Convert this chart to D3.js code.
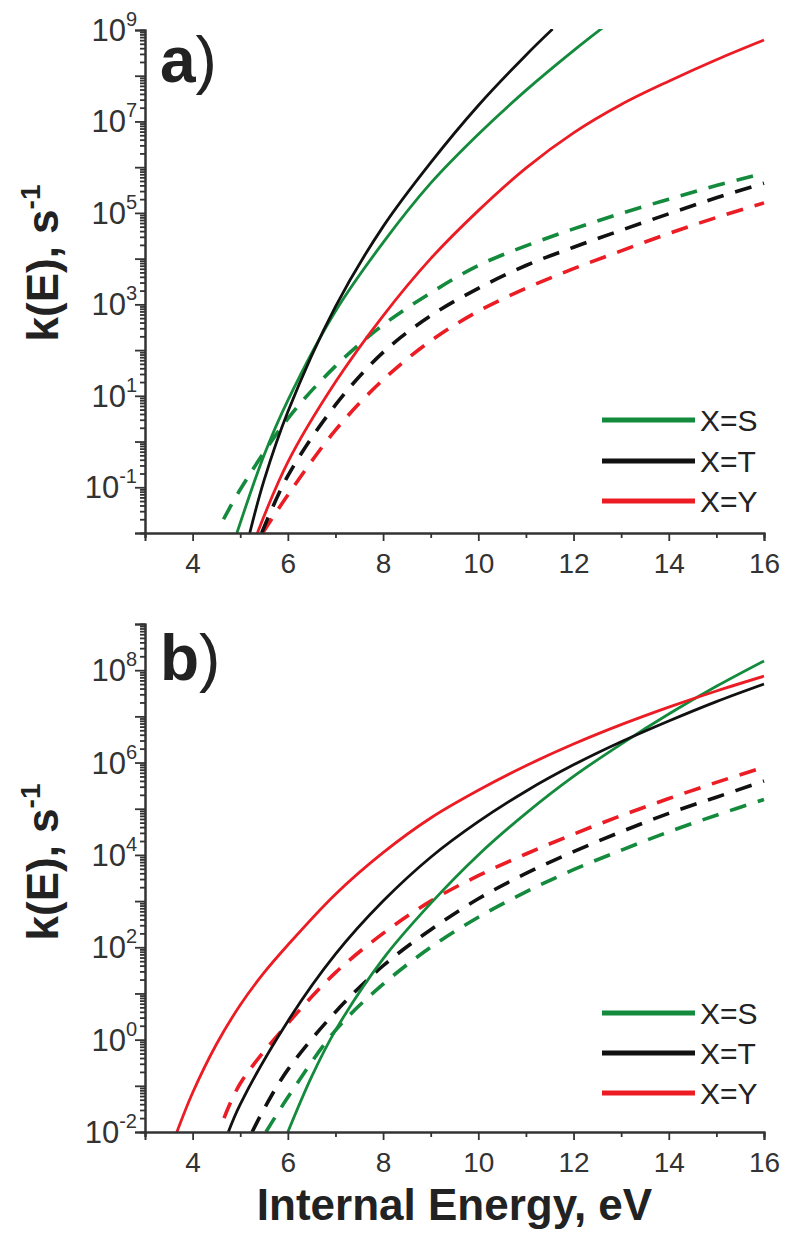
<!DOCTYPE html>
<html>
<head>
<meta charset="utf-8">
<script src="https://cdn.jsdelivr.net/npm/d3@7"></script>
<style>
  body { margin: 0; background: #fff; }
  svg { display: block; font-family: "Liberation Sans", Arial, sans-serif; }
</style>
</head>
<body>
<div id="chart"><svg width="787" height="1234"></svg></div>
<script>
// energies (eV) and log10 k(E)
// panel a
const aS_E = [4.93, 5.5, 6, 7, 8, 9, 10, 11, 12, 12.65]
const aS_logK = [-2, -0.3, 0.9, 2.85, 4.35, 5.65, 6.72, 7.68, 8.55, 9.08]
const aT_E = [5.2, 5.5, 6, 7, 8, 9, 10, 11, 11.56]
const aT_logK = [-2, -0.85, 0.65, 2.95, 4.7, 6.1, 7.35, 8.45, 9.02]
const aY_E = [5.36, 6, 7, 8, 9, 10, 11, 12, 13, 14, 15, 16]
const aY_logK = [-2, -0.45, 1.3, 2.75, 4.0, 5.05, 5.98, 6.75, 7.37, 7.88, 8.35, 8.78]
const aSd_E = [4.65, 5, 6, 7, 8, 9, 10, 11, 12, 13, 14, 15, 16]
const aSd_logK = [-1.7, -1.05, 0.5, 1.65, 2.55, 3.25, 3.85, 4.28, 4.65, 4.99, 5.3, 5.6, 5.87]
const aTd_E = [5.45, 6, 7, 8, 9, 10, 11, 12, 13, 14, 15, 16]
const aTd_logK = [-2, -0.75, 0.8, 1.95, 2.75, 3.35, 3.85, 4.25, 4.62, 4.98, 5.33, 5.65]
const aYd_E = [5.47, 6, 7, 8, 9, 10, 11, 12, 13, 14, 15, 16]
const aYd_logK = [-2, -1.17, 0.25, 1.35, 2.2, 2.85, 3.35, 3.78, 4.17, 4.55, 4.9, 5.22]

// panel b
const bS_E = [6.0, 6.5, 7, 8, 9, 10, 11, 12, 13, 14, 15, 16]
const bS_logK = [-2, -0.8, 0.2, 1.75, 2.95, 4.0, 4.9, 5.7, 6.4, 7.05, 7.65, 8.2]
const bT_E = [4.75, 5, 6, 7, 8, 9, 10, 11, 12, 13, 14, 15, 16]
const bT_logK = [-2, -1.4, 0.4, 1.85, 3.0, 3.95, 4.72, 5.38, 5.95, 6.45, 6.9, 7.32, 7.7]
const bY_E = [3.67, 4, 4.5, 5, 5.5, 6, 7, 8, 9, 10, 11, 12, 13, 14, 15, 16]
const bY_logK = [-2, -1.15, -0.1, 0.75, 1.45, 2.05, 3.15, 4.05, 4.8, 5.4, 5.93, 6.4, 6.82, 7.2, 7.55, 7.87]
const bSd_E = [5.54, 6, 7, 8, 9, 10, 11, 12, 13, 14, 15, 16]
const bSd_logK = [-2, -1.25, 0.2, 1.2, 2.0, 2.65, 3.2, 3.68, 4.1, 4.5, 4.86, 5.2]
const bTd_E = [5.25, 5.5, 6, 7, 8, 9, 10, 11, 12, 13, 14, 15, 16]
const bTd_logK = [-2, -1.5, -0.65, 0.6, 1.6, 2.38, 3.05, 3.6, 4.07, 4.5, 4.9, 5.25, 5.6]
const bYd_E = [4.66, 5, 6, 7, 8, 9, 10, 11, 12, 13, 14, 15, 16]
const bYd_logK = [-1.7, -0.95, 0.35, 1.45, 2.3, 3.0, 3.55, 4.02, 4.45, 4.85, 5.22, 5.57, 5.9]

const legendLabels = ["X=S", "X=T", "X=Y"]
const xTickLabels = [4, 6, 8, 10, 12, 14, 16]
const aYLabelExps = [9, 7, 5, 3, 1, -1]
const bYLabelExps = [8, 6, 4, 2, 0, -2]

const colors = { S: "#138a3c", T: "#111111", Y: "#ec1c24" }

function draw () {
  const svg = d3.select('#chart svg')
  const left = 145, right = 764

  const xScale = d3.scaleLinear().domain([3, 16]).range([left, right])

  const panels = [
    {
      id: 'a', top: 30, bottom: 533, labelExps: aYLabelExps, letterY: 82, titleY: 263,
      legendY: [420, 461, 501],
      series: [
        { key: 'Y', dash: true, E: aYd_E, k: aYd_logK },
        { key: 'T', dash: true, E: aTd_E, k: aTd_logK },
        { key: 'S', dash: true, E: aSd_E, k: aSd_logK },
        { key: 'Y', dash: false, E: aY_E, k: aY_logK },
        { key: 'S', dash: false, E: aS_E, k: aS_logK },
        { key: 'T', dash: false, E: aT_E, k: aT_logK }
      ]
    },
    {
      id: 'b', top: 624, bottom: 1132, labelExps: bYLabelExps, letterY: 680, titleY: 862,
      legendY: [1013, 1053, 1093],
      series: [
        { key: 'S', dash: true, E: bSd_E, k: bSd_logK },
        { key: 'T', dash: true, E: bTd_E, k: bTd_logK },
        { key: 'Y', dash: true, E: bYd_E, k: bYd_logK },
        { key: 'S', dash: false, E: bS_E, k: bS_logK },
        { key: 'T', dash: false, E: bT_E, k: bT_logK },
        { key: 'Y', dash: false, E: bY_E, k: bY_logK }
      ]
    }
  ]

  panels.forEach(p => {
    const yScale = d3.scaleLog().domain([1e-2, 1e9]).range([p.bottom, p.top])
    const g = svg.append('g')

    g.append('clipPath').attr('id', `clip-${p.id}`)
      .append('rect')
      .attr('x', left).attr('y', p.top - 1)
      .attr('width', right - left + 2).attr('height', p.bottom - p.top + 1)

    // curves
    const line = d3.line()
      .x(d => xScale(d[0]))
      .y(d => yScale(Math.pow(10, d[1])))
      .curve(d3.curveCatmullRom.alpha(0.5))

    g.append('g').attr('clip-path', `url(#clip-${p.id})`)
      .selectAll('path')
      .data(p.series)
      .join('path')
      .attr('d', s => line(s.E.map((e, i) => [e, s.k[i]])))
      .attr('fill', 'none')
      .attr('stroke', s => colors[s.key])
      .attr('stroke-width', s => s.dash ? 3.6 : 2.8)
      .attr('stroke-dasharray', s => s.dash ? '17,12' : null)

    // y axis: majors every decade, minors 2..9
    const majors = d3.range(-2, 10).map(e => Math.pow(10, e))
    const minors = []
    d3.range(-2, 9).forEach(e => { for (let m = 2; m <= 9; m++) minors.push(m * Math.pow(10, e)) })

    const yAxisG = g.append('g')
      .attr('transform', `translate(${left},0)`)
      .call(d3.axisLeft(yScale).tickValues(majors).tickSize(10).tickFormat(''))
    yAxisG.append('g')
      .call(d3.axisLeft(yScale).tickValues(minors).tickSize(5).tickFormat(''))
    yAxisG.selectAll('.domain').attr('stroke', '#333').attr('stroke-width', 2)
    yAxisG.selectAll('.tick line').attr('stroke', '#333').attr('stroke-width', 1.8)

    // y tick labels with superscripts
    const yl = g.append('g').selectAll('text')
      .data(p.labelExps)
      .join('text')
      .attr('x', left - 8)
      .attr('y', e => yScale(Math.pow(10, e)) + 11)
      .attr('text-anchor', 'end')
      .attr('fill', '#333')
      .style('font-size', '31px')
    yl.append('tspan').text('10')
    yl.append('tspan').attr('dy', -15).style('font-size', '20px').text(e => String(e))

    // x axis
    const xAxisG = g.append('g')
      .attr('transform', `translate(0,${p.bottom})`)
      .call(d3.axisBottom(xScale).tickValues(xTickLabels).tickSize(8).tickFormat(d3.format('d')))
    xAxisG.append('g')
      .call(d3.axisBottom(xScale).tickValues([3, 5, 7, 9, 11, 13, 15]).tickSize(5).tickFormat(''))
    xAxisG.selectAll('.domain').attr('stroke', '#333').attr('stroke-width', 2)
    xAxisG.selectAll('.tick line').attr('stroke', '#333').attr('stroke-width', 1.8)
    xAxisG.selectAll('.tick text')
      .attr('y', 20).attr('dy', '0.71em')
      .attr('fill', '#333')
      .style('font-size', '28px').style('font-family', '"Liberation Sans", Arial, sans-serif')

    // legend
    const lg = g.append('g').selectAll('g')
      .data(legendLabels)
      .join('g')
      .attr('transform', (d, i) => `translate(0,${p.legendY[i]})`)
    lg.append('line')
      .attr('x1', 602).attr('x2', 695)
      .attr('stroke', (d, i) => colors[['S', 'T', 'Y'][i]])
      .attr('stroke-width', 5)
    lg.append('text')
      .attr('x', 700).attr('y', 11)
      .attr('fill', '#222')
      .style('font-size', '30px')
      .text(d => d)

    // panel letter
    const letter = g.append('text')
      .attr('x', 160).attr('y', p.letterY)
      .attr('fill', '#222')
      .style('font-size', '64px')
    letter.append('tspan').style('font-weight', 'bold').text(p.id)
    letter.append('tspan').text(')')

    // y title
    const yt = g.append('text')
      .attr('transform', `translate(58,${p.titleY}) rotate(-90)`)
      .attr('text-anchor', 'middle')
      .attr('fill', '#222')
      .style('font-size', '44px').style('font-weight', 'bold')
    yt.append('tspan').text('k(E), s')
    yt.append('tspan').attr('dy', -18).style('font-size', '28px').text('-1')
  })

  svg.append('text')
    .attr('x', (left + right) / 2).attr('y', 1220)
    .attr('text-anchor', 'middle')
    .attr('fill', '#222')
    .style('font-size', '44px').style('font-weight', 'bold')
    .text('Internal Energy, eV')
}

draw();
</script>
</body>
</html>
